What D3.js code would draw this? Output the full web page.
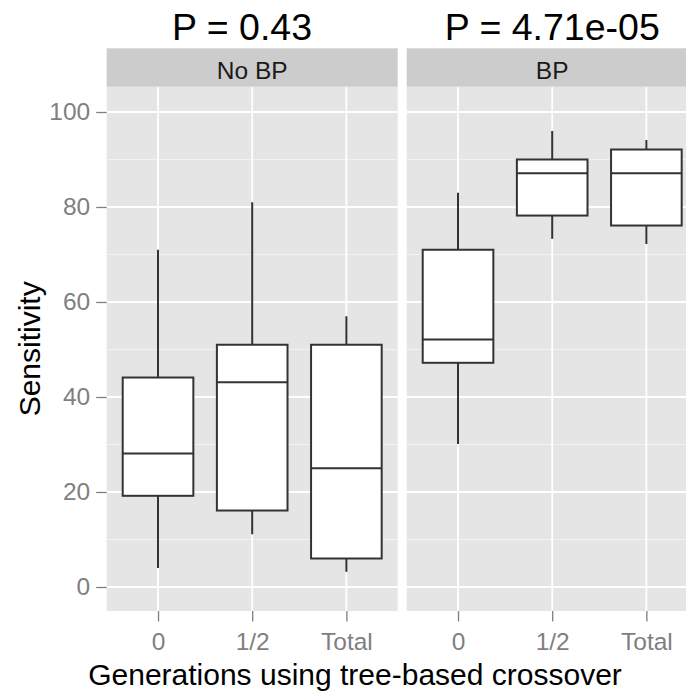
<!DOCTYPE html>
<html>
<head>
<meta charset="utf-8">
<script src="https://cdn.jsdelivr.net/npm/d3@7"></script>
<style>
  html, body { margin: 0; padding: 0; background: #ffffff; }
  svg { display: block; font-family: "Liberation Sans", Arial, sans-serif; }
</style>
</head>
<body>
<svg id="chart" width="686" height="694"></svg>
<script>
// Facet labels and the test result shown above each facet
const panels = ["No BP", "BP"];
const pTitles = ["P = 0.43", "P = 4.71e-05"];
const categories = ["0", "1/2", "Total"];

// Box summaries per category: [lower whisker, Q1, median, Q3, upper whisker]
const noBpStats = [
  [4, 19.2, 28.1, 44.1, 71],
  [11.1, 16.1, 43.1, 51, 81],
  [3.2, 6, 25, 51, 57]
];
const bpStats = [
  [30.1, 47.2, 52.1, 71, 83],
  [73.3, 78.2, 87.1, 90, 96],
  [72.2, 76.1, 87.1, 92.1, 94.1]
];
const yTicks = [0, 20, 40, 60, 80, 100];
const yMinor = [10, 30, 50, 70, 90];

const yLabel = "Sensitivity";
const xLabel = "Generations using tree-based crossover";

const svg = d3.select("#chart");

// Layout
const panelTop = 86.7, panelBottom = 611;
const stripTop = 48.3;
const panelX = [[106.7, 397.7], [406.7, 697.7]];
const boxStroke = 2;

const y = d3.scaleLinear().domain([0, 100]).range([587, 112]);

const statsByPanel = [noBpStats, bpStats];

panels.forEach((name, pi) => {
  const [x0, x1] = panelX[pi];
  const x = d3.scalePoint().domain(categories).range([x0, x1]).padding(0.545);
  const boxW = x.step() * 0.75;
  const g = svg.append("g");

  // panel background
  g.append("rect")
    .attr("x", x0).attr("y", panelTop)
    .attr("width", x1 - x0).attr("height", panelBottom - panelTop)
    .attr("fill", "#e5e5e5");

  // minor grid
  g.selectAll(".minor").data(yMinor).join("line")
    .attr("x1", x0).attr("x2", x1)
    .attr("y1", d => y(d)).attr("y2", d => y(d))
    .attr("stroke", "#f2f2f2").attr("stroke-width", 1);

  // major grid
  g.selectAll(".majorY").data(yTicks).join("line")
    .attr("x1", x0).attr("x2", x1)
    .attr("y1", d => y(d)).attr("y2", d => y(d))
    .attr("stroke", "#ffffff").attr("stroke-width", 1.8);
  g.selectAll(".majorX").data(categories).join("line")
    .attr("x1", d => x(d)).attr("x2", d => x(d))
    .attr("y1", panelTop).attr("y2", panelBottom)
    .attr("stroke", "#ffffff").attr("stroke-width", 1.8);

  // strip
  g.append("rect")
    .attr("x", x0).attr("y", stripTop)
    .attr("width", x1 - x0).attr("height", panelTop - stripTop)
    .attr("fill", "#cccccc");
  g.append("text")
    .attr("x", (x0 + x1) / 2).attr("y", 79.3)
    .attr("text-anchor", "middle")
    .attr("font-size", 24.5).attr("fill", "#1a1a1a")
    .text(name);

  // P-value title
  g.append("text")
    .attr("x", pi === 0 ? 242 : (x0 + x1) / 2).attr("y", 40)
    .attr("text-anchor", "middle")
    .attr("font-size", 37.5).attr("fill", "#000000")
    .text(pTitles[pi]);

  // boxes
  const stats = statsByPanel[pi];
  const boxes = g.selectAll(".box").data(categories).join("g");
  boxes.append("line")
    .attr("x1", d => x(d)).attr("x2", d => x(d))
    .attr("y1", (d, i) => y(stats[i][3])).attr("y2", (d, i) => y(stats[i][4]))
    .attr("stroke", "#333333").attr("stroke-width", boxStroke);
  boxes.append("line")
    .attr("x1", d => x(d)).attr("x2", d => x(d))
    .attr("y1", (d, i) => y(stats[i][1])).attr("y2", (d, i) => y(stats[i][0]))
    .attr("stroke", "#333333").attr("stroke-width", boxStroke);
  boxes.append("rect")
    .attr("x", d => x(d) - boxW / 2).attr("width", boxW)
    .attr("y", (d, i) => y(stats[i][3]))
    .attr("height", (d, i) => y(stats[i][1]) - y(stats[i][3]))
    .attr("fill", "#ffffff").attr("stroke", "#333333").attr("stroke-width", boxStroke);
  boxes.append("line")
    .attr("x1", d => x(d) - boxW / 2).attr("x2", d => x(d) + boxW / 2)
    .attr("y1", (d, i) => y(stats[i][2])).attr("y2", (d, i) => y(stats[i][2]))
    .attr("stroke", "#333333").attr("stroke-width", boxStroke);

  // x axis
  const xAxis = d3.axisBottom(x).tickSize(10.5).tickPadding(5);
  const ax = svg.append("g").attr("transform", `translate(0,${panelBottom})`).call(xAxis);
  ax.select(".domain").remove();
  ax.selectAll(".tick line").attr("stroke", "#7f7f7f").attr("stroke-width", 1.3);
  ax.selectAll(".tick text")
    .attr("font-size", 24.5).attr("fill", "#7f7f7f")
    .attr("font-family", "Liberation Sans, Arial, sans-serif")
    .attr("dy", null).attr("y", 39);
});

// y axis
const yAxis = d3.axisLeft(y).tickValues(yTicks).tickSize(10.5).tickPadding(6);
const ay = svg.append("g").attr("transform", `translate(${panelX[0][0]},0)`).call(yAxis);
ay.select(".domain").remove();
ay.selectAll(".tick line").attr("stroke", "#7f7f7f").attr("stroke-width", 1.3);
ay.selectAll(".tick text")
  .attr("font-size", 24.5).attr("fill", "#7f7f7f")
  .attr("font-family", "Liberation Sans, Arial, sans-serif");

// axis titles
svg.append("text")
  .attr("transform", `translate(40,${(panelTop + panelBottom) / 2}) rotate(-90)`)
  .attr("text-anchor", "middle")
  .attr("font-size", 30).attr("fill", "#000000")
  .text(yLabel);

svg.append("text")
  .attr("x", 355).attr("y", 685)
  .attr("text-anchor", "middle")
  .attr("font-size", 30).attr("fill", "#000000")
  .text(xLabel);
</script>
</body>
</html>
